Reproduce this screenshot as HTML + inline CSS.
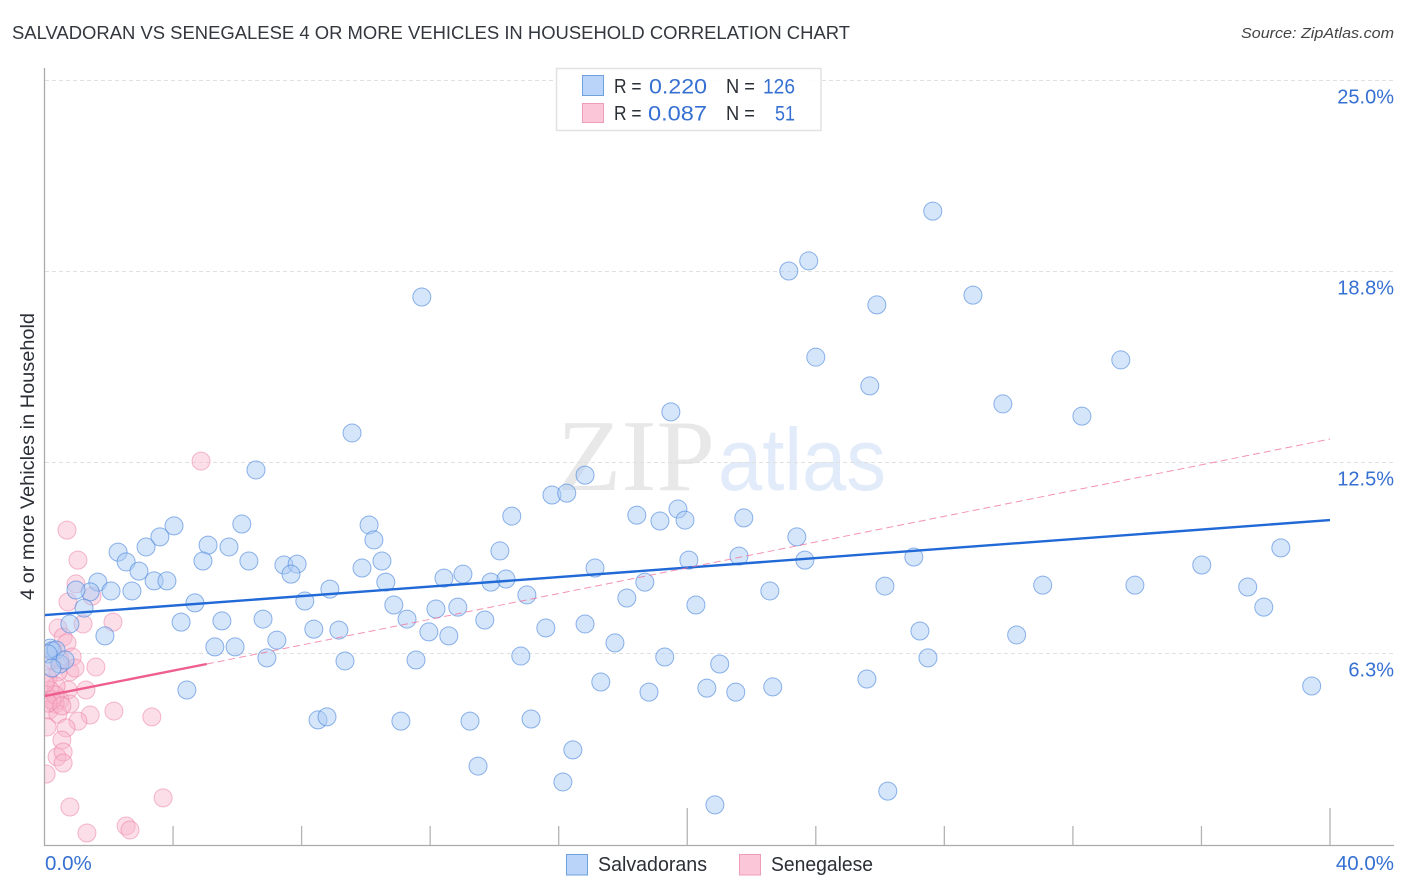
<!DOCTYPE html>
<html lang="en">
<head>
<meta charset="utf-8">
<title>Salvadoran vs Senegalese correlation chart</title>
<style>
html,body{margin:0;padding:0;background:#fff;width:1406px;height:892px;overflow:hidden}
svg{display:block;font-family:"Liberation Sans",sans-serif}
</style>
</head>
<body>
<svg id="chart" width="1406" height="892" viewBox="0 0 1406 892">
<defs><clipPath id="plot-clip"><rect x="45" y="60" width="1349" height="785"/></clipPath></defs>
<text x="12" y="39" font-size="18" fill="#33373e" textLength="838" lengthAdjust="spacingAndGlyphs">SALVADORAN VS SENEGALESE 4 OR MORE VEHICLES IN HOUSEHOLD CORRELATION CHART</text>
<text x="1394" y="38" font-size="15" font-style="italic" fill="#444" text-anchor="end" textLength="153" lengthAdjust="spacingAndGlyphs">Source: ZipAtlas.com</text>
<text x="557" y="490" font-size="102" font-family="'Liberation Serif',serif" fill="#e8e8e8" textLength="158" lengthAdjust="spacingAndGlyphs">ZIP</text>
<text x="718" y="490" font-size="88" fill="#e2ebf9" textLength="168" lengthAdjust="spacingAndGlyphs">atlas</text>
<g id="grid"></g>
<g id="axes"></g>
<g id="marks" clip-path="url(#plot-clip)"></g>
<text transform="translate(34,456.5) rotate(-90)" font-size="19" fill="#2b2f36" text-anchor="middle" textLength="287" lengthAdjust="spacingAndGlyphs">4 or more Vehicles in Household</text>
<g>
<rect x="556.5" y="68.5" width="264.5" height="62" fill="#fff" fill-opacity="0.9" stroke="#e2e2e2" stroke-width="1.5"/>
<rect x="582.5" y="75.5" width="21" height="20" fill="#b9d4f8" stroke="#6fa0e0"/>
<rect x="582.5" y="103.5" width="21" height="19" fill="#fcc6d9" stroke="#ee9db8"/>
<g font-size="20" fill="#2b2f36">
<text x="614" y="93" textLength="27.5" lengthAdjust="spacingAndGlyphs">R =</text>
<text x="614" y="120" textLength="27.5" lengthAdjust="spacingAndGlyphs">R =</text>
<text x="726" y="93" textLength="29" lengthAdjust="spacingAndGlyphs">N =</text>
<text x="726" y="120" textLength="29" lengthAdjust="spacingAndGlyphs">N =</text>
</g>
<g font-size="21.5" fill="#3570d2">
<text x="649" y="93.5" textLength="58" lengthAdjust="spacingAndGlyphs">0.220</text>
<text x="648" y="120.5" textLength="59" lengthAdjust="spacingAndGlyphs">0.087</text>
<text x="763" y="93.5" textLength="32" lengthAdjust="spacingAndGlyphs">126</text>
<text x="775" y="120.5" textLength="20" lengthAdjust="spacingAndGlyphs">51</text>
</g>
</g>
<g>
<g>
<rect x="566.5" y="854.5" width="21" height="20.5" fill="#b9d4f8" stroke="#6fa0e0"/>
<text x="598" y="871" font-size="20" fill="#2b2f36" textLength="109" lengthAdjust="spacingAndGlyphs">Salvadorans</text>
</g>
<g>
<rect x="739.5" y="854.5" width="21" height="20.5" fill="#fcc6d9" stroke="#ee9db8"/>
<text x="771" y="871" font-size="20" fill="#2b2f36" textLength="102" lengthAdjust="spacingAndGlyphs">Senegalese</text>
</g>
</g>
</svg>
<script>
const xTickValues = [0,4,8,12,16,20,24,28,32,36,40];
const xLabelValues = [0,40];
const xLabelText = ["0.0%","40.0%"];
const yTickValues = [25,18.75,12.5,6.25];
const yTickText = ["25.0%","18.8%","12.5%","6.3%"];

const blueX = [27.64,23.78,23.16,11.74,28.89,25.90,24.00,33.49,25.68,29.82,19.49,32.28,9.57,6.58,16.82,15.79,16.25,14.54,19.71,18.43,19.15,19.93,21.76,4.03,6.14,10.10,3.59,10.25,23.41,2.29,3.16,5.09,5.74,14.17,38.47,2.54,4.93,6.36,10.50,20.05,21.61,23.66,27.05,36.01,2.94,7.45,7.86,9.88,17.13,3.41,3.81,7.67,1.66,10.62,12.43,13.02,13.89,14.36,18.68,26.15,31.06,33.93,37.44,2.07,1.42,0.98,2.72,8.88,15.01,22.57,18.12,4.68,8.10,10.87,20.27,1.23,12.18,12.86,37.94,0.79,4.25,5.52,6.80,11.28,13.70,15.60,16.82,8.38,9.16,11.96,12.58,27.24,30.25,1.88,7.23,17.75,5.30,5.93,14.82,19.30,6.92,9.35,11.56,27.49,21.01,17.31,25.59,4.43,18.81,20.61,21.51,22.66,39.43,8.51,8.79,11.09,13.24,15.14,16.44,13.49,16.13,26.24,20.86,0.17,0.23,0.36,0.11,0.48,0.64,0.23];
const blueY = [20.71,19.08,18.75,17.90,17.96,17.64,15.93,15.84,14.99,14.40,14.14,14.00,13.45,12.24,12.07,11.42,11.48,10.73,10.96,10.76,10.57,10.60,10.67,10.41,10.47,10.44,10.05,9.95,10.05,9.55,9.72,9.78,9.72,9.59,9.69,9.23,9.26,9.26,9.26,9.29,9.42,9.29,9.39,9.13,8.93,9.13,9.16,9.03,9.03,8.61,8.61,8.83,8.57,8.57,8.70,8.83,8.57,8.67,8.57,8.44,8.47,8.47,8.41,8.28,8.25,8.31,8.28,8.34,8.15,8.28,8.05,7.89,7.95,7.82,7.82,7.72,7.69,7.75,7.75,7.20,7.26,7.30,7.36,7.36,7.33,7.07,7.20,7.03,7.00,6.94,6.81,6.97,6.84,6.81,6.67,6.58,6.45,6.45,6.15,6.12,6.09,5.99,6.02,6.09,5.89,5.30,5.40,5.04,4.97,5.10,4.97,5.14,5.17,4.06,4.16,4.02,4.02,4.09,3.08,2.55,2.03,1.73,1.28,6.41,6.32,6.35,6.22,5.89,6.02,5.76];

const pinkX = [4.87,0.70,1.04,0.98,1.48,0.73,1.20,2.13,0.42,0.58,0.70,1.60,0.86,0.79,0.26,0.42,0.11,1.29,0.73,0.36,0.17,0.05,0.48,0.79,0.33,0.14,0.42,2.16,1.42,1.04,3.34,0.67,0.08,0.54,0.39,0.58,0.58,0.05,0.79,3.69,1.32,2.54,2.66,0.23,0.33,0.11,0.54,0.23,0.02,0.48,0.95];
const pinkY = [12.53,10.27,9.29,8.51,8.11,7.92,7.20,7.26,7.07,6.77,6.58,5.79,6.12,5.63,6.32,5.63,5.43,5.04,5.04,5.17,5.04,4.88,4.71,4.58,4.58,4.38,4.25,4.35,4.22,4.02,4.16,3.80,3.83,3.40,2.85,3.01,2.65,2.29,1.21,1.51,0.36,0.59,0.46,4.71,4.88,4.61,4.52,6.02,5.27,6.02,5.76];

const blueTrendX = [0,40];
const blueTrendY = [7.49,10.60];
const pinkSolidX = [0,5.05];
const pinkSolidY = [4.84,5.89];
const pinkDashX = [5.05,40];
const pinkDashY = [5.89,13.25];

const NS = 'http://www.w3.org/2000/svg';
const xScale = v => 44.5 + v * (1330 - 44.5) / 40;
const yScale = v => 844 - v * (844 - 80) / 25;

function make(tag, attrs, parent, text) {
  const el = document.createElementNS(NS, tag);
  for (const k in attrs) el.setAttribute(k, attrs[k]);
  if (text !== undefined) el.textContent = text;
  parent.appendChild(el);
  return el;
}

const gridG = document.getElementById('grid');
const axesG = document.getElementById('axes');
const marksG = document.getElementById('marks');

yTickValues.forEach((v, i) => {
  const line = make('line', {x1:45, x2:1394, y1:yScale(v)+0.5, y2:yScale(v)+0.5, stroke:'#e0e0e0', 'stroke-width':1, 'stroke-dasharray':'4 3'}, gridG);
  
  
  const label = make('text', {x:1394, y:yScale(v)+23.5, 'font-size':20, fill:'#3570d2', 'text-anchor':'end'}, axesG, yTickText[i]);
  
  
});

const yAxis = make('line', {x1:44.5, x2:44.5, y1:68, y2:846, stroke:'#ababab', 'stroke-width':1.3}, axesG);


const xAxis = make('line', {x1:44, x2:1394, y1:845.5, y2:845.5, stroke:'#ababab', 'stroke-width':1.3}, axesG);



xTickValues.forEach((v, i) => {
  if (i === 0) return;
  const long = v === 20 || v === 40;
  const tick = make('line', {x1:xScale(v), x2:xScale(v), y1:long ? 808 : 826, y2:845, stroke:'#b4b4b4', 'stroke-width':1.3}, axesG);
  
  
});

xLabelValues.forEach((v, i) => {
  const first = i === 0;
  const label = make('text', {x:first ? 45 : 1394, y:870, 'font-size':20.5, fill:'#3570d2', 'text-anchor':first ? 'start' : 'end'}, axesG, xLabelText[i]);
  
  
});

pinkX.forEach((v, i) => {
  const c = make('circle', {cx:xScale(v), cy:yScale(pinkY[i]), r:9, fill:'#f8b3ca', 'fill-opacity':0.44, stroke:'#e9789f', 'stroke-opacity':0.5, 'stroke-width':1}, marksG);
  
  
});

blueX.forEach((v, i) => {
  const c = make('circle', {cx:xScale(v), cy:yScale(blueY[i]), r:9, fill:'#a9cbf5', 'fill-opacity':0.48, stroke:'#4a86dc', 'stroke-opacity':0.62, 'stroke-width':1}, marksG);
  
  
});

const blueTrend = make('line', {x1:xScale(blueTrendX[0]), y1:yScale(blueTrendY[0]), x2:xScale(blueTrendX[1]), y2:yScale(blueTrendY[1]), stroke:'#2069d6', 'stroke-width':2.4}, marksG);


const pinkDash = make('line', {x1:xScale(pinkDashX[0]), y1:yScale(pinkDashY[0]), x2:xScale(pinkDashX[1]), y2:yScale(pinkDashY[1]), stroke:'#ee6f98', 'stroke-width':1, 'stroke-opacity':0.75, 'stroke-dasharray':'7 4'}, marksG);


const pinkSolid = make('line', {x1:xScale(pinkSolidX[0]), y1:yScale(pinkSolidY[0]), x2:xScale(pinkSolidX[1]), y2:yScale(pinkSolidY[1]), stroke:'#ee5f8f', 'stroke-width':2.4}, marksG);


</script>
</body>
</html>
